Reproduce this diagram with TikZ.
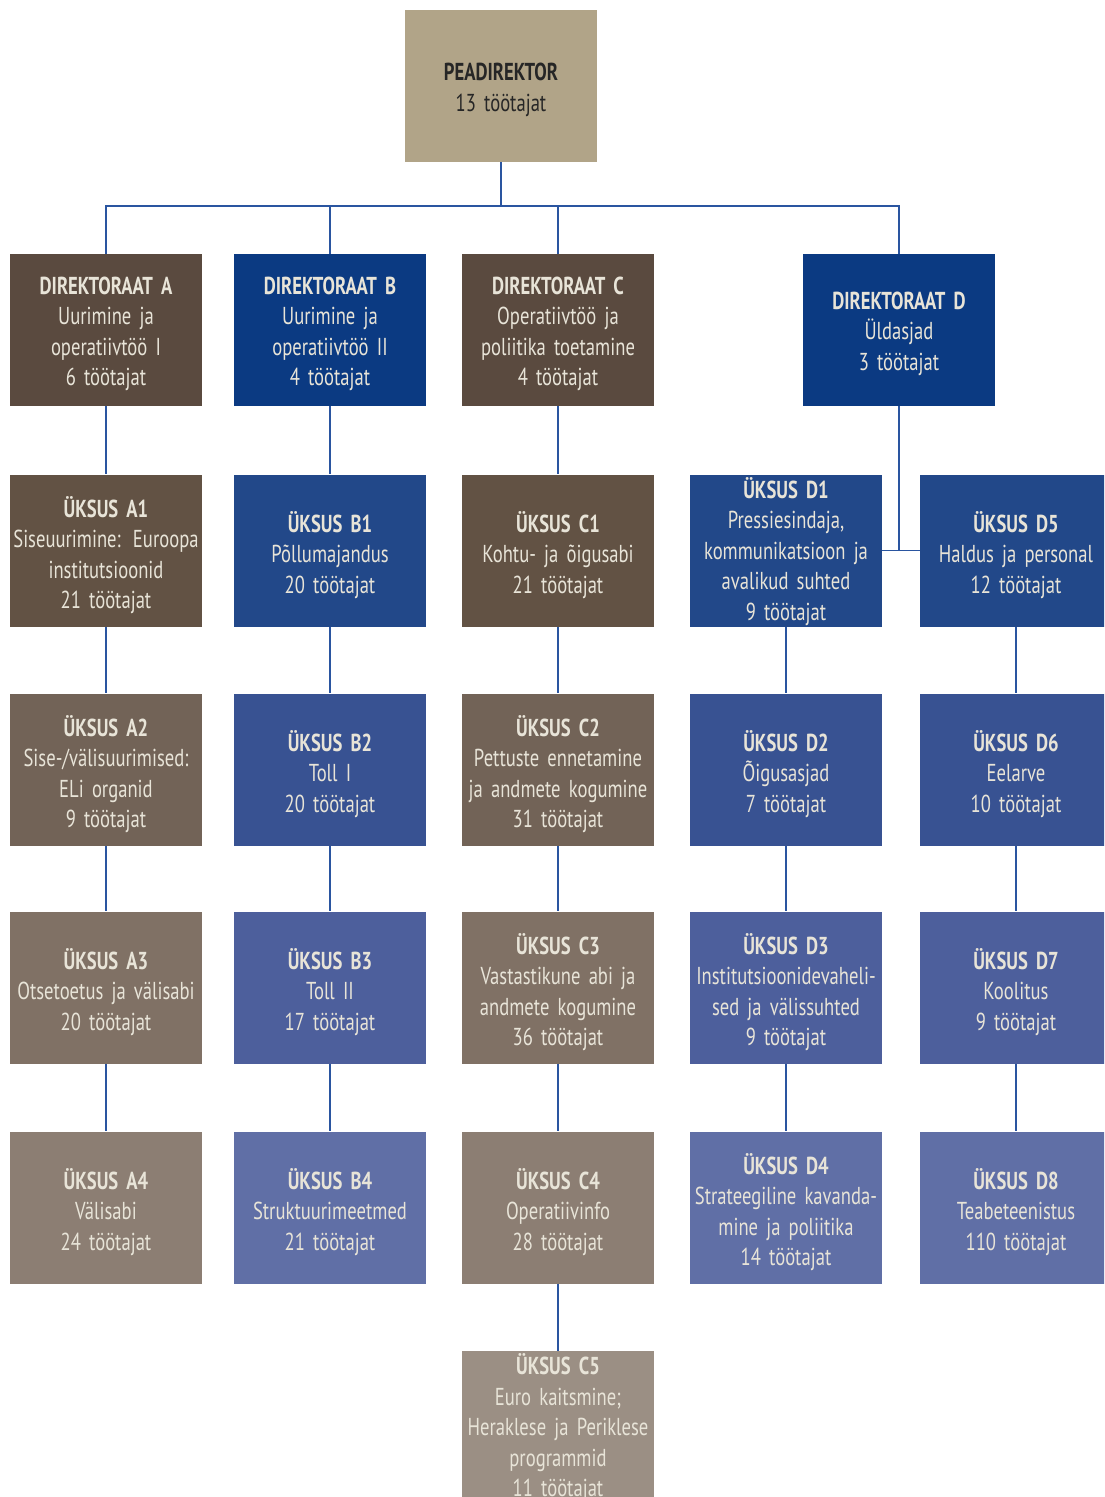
\documentclass[tikz,border=0pt]{standalone}
\usepackage{fontspec}
\setmainfont[FakeStretch=0.76]{PT Sans}
\newfontfamily\boxfont[FakeStretch=0.76]{PT Sans}
\newcommand\boxsize{\fontsize{24.5}{30.5}\selectfont}
\AtBeginDocument{{\boxfont\boxsize\global\fontdimen2\font=4.5pt
  \bfseries\global\fontdimen2\font=4.5pt}}
\definecolor{cPea}{HTML}{B1A488}
\definecolor{cBr0}{HTML}{5A4A3F}
\definecolor{cBl0}{HTML}{0B3A82}
\definecolor{cBr1}{HTML}{625244}
\definecolor{cBl1}{HTML}{224889}
\definecolor{cBr2}{HTML}{726357}
\definecolor{cBl2}{HTML}{385292}
\definecolor{cBr3}{HTML}{807165}
\definecolor{cBl3}{HTML}{4D5F9C}
\definecolor{cBr4}{HTML}{8C7E73}
\definecolor{cBl4}{HTML}{606FA6}
\definecolor{cBr5}{HTML}{9B8F84}
\definecolor{txt}{HTML}{E8E4D8}
\definecolor{lnc}{HTML}{2A55A0}
\begin{document}
\begin{tikzpicture}[x=1pt,y=-1pt,
  unit/.style={fill=#1, text=txt, minimum width=192pt, minimum height=152pt,
    text width=190pt, align=center, inner sep=0pt, anchor=center, text height=30pt,
    font=\boxfont\boxsize},
  dirbox/.style={text height=25pt},
  tallbox/.style={text height=23pt},
  conn/.style={draw=lnc, line width=1.8pt}]
\useasboundingbox (0,0) rectangle (1104,1497);
\begin{scope}
\clip (0,0) rectangle (1104,1497);
% top
\node[unit=cPea, dirbox, text=black!85] (pea) at (501,86) {\textbf{PEADIREKTOR}\\13 töötajat};
% directorates
\node[unit=cBr0, dirbox] (dA) at (106,330) {\textbf{DIREKTORAAT A}\\Uurimine ja\\operatiivtöö I\\6 töötajat};
\node[unit=cBl0, dirbox] (dB) at (330,330) {\textbf{DIREKTORAAT B}\\Uurimine ja\\operatiivtöö II\\4 töötajat};
\node[unit=cBr0, dirbox] (dC) at (558,330) {\textbf{DIREKTORAAT C}\\Operatiivtöö ja\\poliitika toetamine\\4 töötajat};
\node[unit=cBl0, dirbox] (dD) at (899,330) {\textbf{DIREKTORAAT D}\\Üldasjad\\3 töötajat};
% row 2
\node[unit=cBr1] (a1) at (106,550.5) {\textbf{ÜKSUS A1}\\Siseuurimine: Euroopa\\institutsioonid\\21 töötajat};
\node[unit=cBl1] (b1) at (330,550.5) {\textbf{ÜKSUS B1}\\Põllumajandus\\20 töötajat};
\node[unit=cBr1] (c1) at (558,550.5) {\textbf{ÜKSUS C1}\\Kohtu- ja õigusabi\\21 töötajat};
\node[unit=cBl1, tallbox] (d1) at (786,550.5) {\textbf{ÜKSUS D1}\\Pressiesindaja,\\kommunikatsioon ja\\avalikud suhted\\9 töötajat};
\node[unit=cBl1] (d5) at (1016,550.5) {\textbf{ÜKSUS D5}\\Haldus ja personal\\12 töötajat};
% row 3
\node[unit=cBr2] (a2) at (106,769.5) {\textbf{ÜKSUS A2}\\Sise-/välisuurimised:\\ELi organid\\9 töötajat};
\node[unit=cBl2] (b2) at (330,769.5) {\textbf{ÜKSUS B2}\\Toll I\\20 töötajat};
\node[unit=cBr2] (c2) at (558,769.5) {\textbf{ÜKSUS C2}\\Pettuste ennetamine\\ja andmete kogumine\\31 töötajat};
\node[unit=cBl2] (d2) at (786,769.5) {\textbf{ÜKSUS D2}\\Õigusasjad\\7 töötajat};
\node[unit=cBl2] (d6) at (1016,769.5) {\textbf{ÜKSUS D6}\\Eelarve\\10 töötajat};
% row 4
\node[unit=cBr3] (a3) at (106,987.5) {\textbf{ÜKSUS A3}\\Otsetoetus ja välisabi\\20 töötajat};
\node[unit=cBl3] (b3) at (330,987.5) {\textbf{ÜKSUS B3}\\Toll II\\17 töötajat};
\node[unit=cBr3] (c3) at (558,987.5) {\textbf{ÜKSUS C3}\\Vastastikune abi ja\\andmete kogumine\\36 töötajat};
\node[unit=cBl3] (d3) at (786,987.5) {\textbf{ÜKSUS D3}\\Institutsioonidevaheli-\\sed ja välissuhted\\9 töötajat};
\node[unit=cBl3] (d7) at (1016,987.5) {\textbf{ÜKSUS D7}\\Koolitus\\9 töötajat};
% row 5
\node[unit=cBr4] (a4) at (106,1207.5) {\textbf{ÜKSUS A4}\\Välisabi\\24 töötajat};
\node[unit=cBl4] (b4) at (330,1207.5) {\textbf{ÜKSUS B4}\\Struktuurimeetmed\\21 töötajat};
\node[unit=cBr4] (c4) at (558,1207.5) {\textbf{ÜKSUS C4}\\Operatiivinfo\\28 töötajat};
\node[unit=cBl4] (d4) at (786,1207.5) {\textbf{ÜKSUS D4}\\Strateegiline kavanda-\\mine ja poliitika\\14 töötajat};
\node[unit=cBl4] (d8) at (1016,1207.5) {\textbf{ÜKSUS D8}\\Teabeteenistus\\110 töötajat};
% row 6
\node[unit=cBr5, tallbox] (c5) at (558,1427) {\textbf{ÜKSUS C5}\\Euro kaitsmine;\\Heraklese ja Periklese\\programmid\\11 töötajat};
\end{scope}
% connectors
\coordinate (bus) at (500,206);
\draw[conn] (pea.south) -- (pea.south |- bus);
\draw[conn] (dA.north) |- (dD.north |- bus) -- (dD.north);
\draw[conn] (dB.north) -- (dB.north |- bus);
\draw[conn] (dC.north) -- (dC.north |- bus);
\draw[conn] (dA) -- (a1); \draw[conn] (a1) -- (a2); \draw[conn] (a2) -- (a3); \draw[conn] (a3) -- (a4);
\draw[conn] (dB) -- (b1); \draw[conn] (b1) -- (b2); \draw[conn] (b2) -- (b3); \draw[conn] (b3) -- (b4);
\draw[conn] (dC) -- (c1); \draw[conn] (c1) -- (c2); \draw[conn] (c2) -- (c3); \draw[conn] (c3) -- (c4); \draw[conn] (c4) -- (c5);
\draw[conn] (d1) -- (d2); \draw[conn] (d2) -- (d3); \draw[conn] (d3) -- (d4);
\draw[conn] (d5) -- (d6); \draw[conn] (d6) -- (d7); \draw[conn] (d7) -- (d8);
\draw[conn] (dD.south) -- (dD.south |- d1.east);
\draw[conn] (d1.east) -- (d5.west);
\end{tikzpicture}
\end{document}
